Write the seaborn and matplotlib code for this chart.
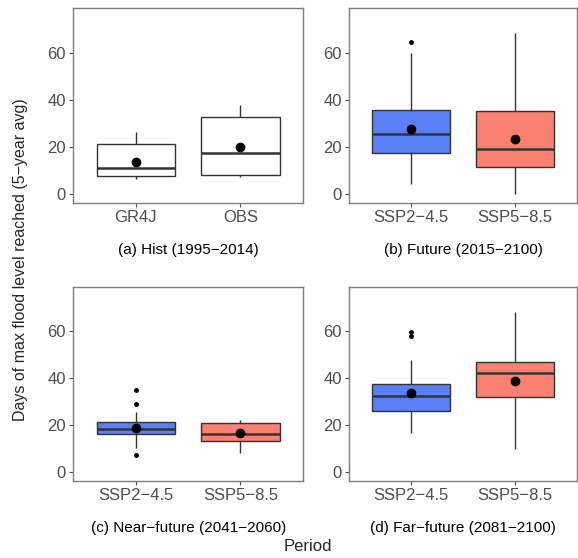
import matplotlib
matplotlib.use("Agg")
import matplotlib.pyplot as plt
import pandas as pd
import seaborn as sns

# Raw values (5-year avg days)
gr4j_hist = [6.6, 7.0, 8.0, 9.0, 11.1, 12.0, 21.4, 21.5, 26.3]
obs_hist = [7.3, 7.8, 8.3, 11.4, 17.6, 22.0, 32.7, 35.0, 37.9]

ssp245_future = [4.2, 7.0, 13.0, 17.7, 18.5, 21.5, 25.7, 26.5, 29.5, 35.7, 38.0, 59.7, 64.6]
ssp585_future = [0.3, 3.0, 9.0, 11.7, 14.0, 17.0, 19.3, 21.0, 25.0, 35.4, 38.0, 45.0, 68.1]

ssp245_near = [7.3, 10.3, 12.0, 14.5, 16.3, 16.5, 17.5, 18.0, 18.5, 19.0, 19.5, 20.0, 21.3,
               21.5, 25.5, 29.0, 34.8]
ssp585_near = [8.2, 11.0, 12.5, 13.5, 14.5, 15.5, 16.5, 17.5, 19.0, 21.1, 21.5, 22.0, 22.3]

ssp245_far = [16.9, 18.0, 21.0, 24.0, 26.1, 27.0, 29.0, 30.8, 32.4, 32.5, 35.0, 36.5, 37.6,
              38.0, 47.6, 57.7, 59.4]
ssp585_far = [9.9, 17.0, 26.1, 32.0, 36.0, 40.0, 42.3, 44.0, 45.5, 46.9, 48.0, 50.0, 68.0]

panel_titles = [
    "(a) Hist (1995\u22122014)",
    "(b) Future (2015\u22122100)",
    "(c) Near\u2212future (2041\u22122060)",
    "(d) Far\u2212future (2081\u22122100)",
]
hist_labels = ["GR4J", "OBS"]
ssp_labels = ["SSP2\u22124.5", "SSP5\u22128.5"]
y_ticks = [0, 20, 40, 60]

sns.set_theme(style="white")
plt.rcParams["font.family"] = ["Liberation Sans", "DejaVu Sans"]

panels = [
    (hist_labels, [gr4j_hist, obs_hist], ["white", "white"]),
    (ssp_labels, [ssp245_future, ssp585_future], ["#5A80F8", "#FA8072"]),
    (ssp_labels, [ssp245_near, ssp585_near], ["#5A80F8", "#FA8072"]),
    (ssp_labels, [ssp245_far, ssp585_far], ["#5A80F8", "#FA8072"]),
]

fig = plt.figure(figsize=(5.78, 5.58), dpi=100)
positions = [
    [0.1263, 0.6357, 0.3984, 0.3495],
    [0.6038, 0.6357, 0.3953, 0.3495],
    [0.1263, 0.1375, 0.3984, 0.3487],
    [0.6038, 0.1375, 0.3953, 0.3487],
]

for pos, title, (labels, groups, colors) in zip(positions, panel_titles, panels):
    ax = fig.add_axes(pos)
    rows = []
    for label, values in zip(labels, groups):
        for v in values:
            rows.append({"group": label, "days": v})
    df = pd.DataFrame(rows)

    sns.boxplot(
        data=df, x="group", y="days", hue="group", order=labels, hue_order=labels,
        palette=dict(zip(labels, colors)), saturation=1, width=0.75,
        linecolor="#333333", linewidth=1.0, legend=False, ax=ax,
        showcaps=False, showmeans=True,
        meanprops=dict(marker="o", markerfacecolor="black", markeredgecolor="black",
                       markersize=6),
        medianprops=dict(linewidth=1.8, color="#333333"),
        flierprops=dict(marker="o", markerfacecolor="black", markeredgecolor="black",
                        markersize=2.5),
    )

    ax.set_xlim(-0.6, 1.6)
    ax.set_ylim(-3.75, 78.75)
    ax.set_yticks(y_ticks)
    ax.set_ylabel("")
    ax.set_xlabel(title, fontsize=11, color="black", labelpad=13)
    ax.tick_params(axis="both", labelsize=12, labelcolor="#4D4D4D", colors="#4D4D4D",
                   length=3, width=0.8, pad=2, left=True, bottom=True)
    for spine in ax.spines.values():
        spine.set_color("#7F7F7F")
        spine.set_linewidth(1.0)

fig.text(0.035, 0.534, "Days of max flood level reached (5\u2212year avg)", rotation=90,
         ha="center", va="center", fontsize=11.5)
fig.text(0.532, 0.02, "Period", ha="center", va="center", fontsize=12)

fig.savefig("out.png", dpi=100)
plt.close(fig)
